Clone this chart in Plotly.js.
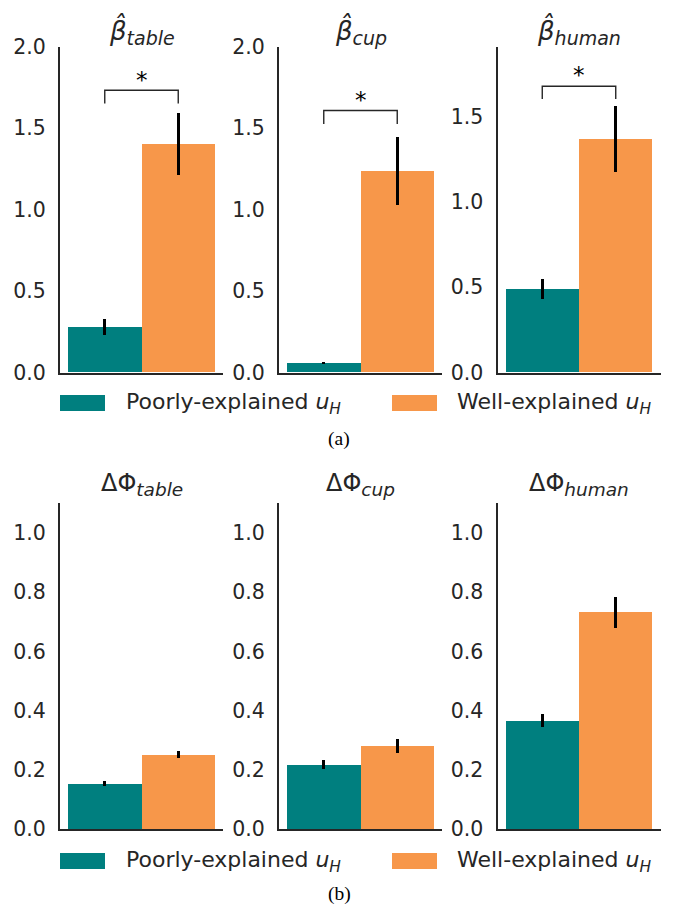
<!DOCTYPE html>
<html>
<head>
<meta charset="utf-8">
<script src="https://cdn.plot.ly/plotly-3.0.1.min.js"></script>
<style>html,body{margin:0;padding:0;background:#fff;}#chart{width:678px;height:910px;}</style>
</head>
<body>
<div id="chart"></div>
<script>
// ---- data ----
const groups = ["Poorly-explained", "Well-explained"];
const topTitles = ["table", "cup", "human"];
const bottomTitles = ["table", "cup", "human"];

// beta-hat (top row)
const betaPoor    = [0.28, 0.058, 0.49];
const betaPoorErr = [0.048, 0.004, 0.06];
const betaWell    = [1.40, 1.238, 1.369];
const betaWellErr = [0.19, 0.21, 0.196];
const betaYMax    = [2.0, 2.0, 1.91];
const bracketTop  = [1.733, 1.608, 1.678];
const bracketLeg  = [1.651, 1.526, 1.604];
const starY       = [1.823, 1.70, 1.77];

// delta-phi (bottom row)
const phiPoor    = [0.153, 0.217, 0.366];
const phiPoorErr = [0.008, 0.016, 0.023];
const phiWell    = [0.251, 0.281, 0.732];
const phiWellErr = [0.0125, 0.023, 0.052];
const phiYMax    = [1.1, 1.1, 1.1];

// ---- style ----
const W = 678, H = 910;
const TEAL = "#007f7f", ORANGE = "#f7974a", INK = "#262626";
const xPix = [[60, 223], [279, 442], [497.5, 660.5]];
const topRowPix = [372.5, 46.7];
const botRowPix = [829, 503.3];
const px2x = p => p / W;
const px2y = p => 1 - p / H;

const data = [];
const layout = {
  width: W, height: H,
  margin: {l: 0, r: 0, t: 0, b: 0},
  paper_bgcolor: "#fff", plot_bgcolor: "#fff",
  showlegend: false,
  font: {family: "DejaVu Sans", color: INK, size: 20},
  shapes: [], annotations: [], bargap: 0
};

function addPanel(idx, row, col, poor, poorErr, well, wellErr, ymax, dtick) {
  const xa = idx === 1 ? "x" : "x" + idx;
  const ya = idx === 1 ? "y" : "y" + idx;
  const errStyle = {type: "data", visible: true, color: "#000", thickness: 2.7, width: 0};
  data.push({type: "bar", x: [0], y: [poor[col]], width: [1], xaxis: xa, yaxis: ya,
    marker: {color: TEAL, line: {width: 0}}, name: groups[0],
    error_y: Object.assign({array: [poorErr[col]]}, errStyle)});
  data.push({type: "bar", x: [1], y: [well[col]], width: [1], xaxis: xa, yaxis: ya,
    marker: {color: ORANGE, line: {width: 0}}, name: groups[1],
    error_y: Object.assign({array: [wellErr[col]]}, errStyle)});
  const rowPix = row === 0 ? topRowPix : botRowPix;
  const xkey = idx === 1 ? "xaxis" : "xaxis" + idx;
  const ykey = idx === 1 ? "yaxis" : "yaxis" + idx;
  layout[xkey] = {domain: [px2x(xPix[col][0]), px2x(xPix[col][1])], anchor: ya,
    range: [-0.609, 1.609], showgrid: false, zeroline: false, showticklabels: false,
    ticks: "", showline: true, linecolor: INK, linewidth: 2, fixedrange: true};
  layout[ykey] = {domain: [px2y(rowPix[0]), px2y(rowPix[1])], anchor: xa,
    range: [0, ymax[col]], dtick: dtick, tick0: 0, tickformat: ".1f",
    showgrid: false, zeroline: false, ticks: "", showline: true, linecolor: INK,
    linewidth: 2, ticklabelstandoff: 8, tickfont: {size: 20.5, color: INK}, fixedrange: true};
}

for (let c = 0; c < 3; c++) {
  addPanel(c + 1, 0, c, betaPoor, betaPoorErr, betaWell, betaWellErr, betaYMax, 0.5);
  addPanel(c + 4, 1, c, phiPoor, phiPoorErr, phiWell, phiWellErr, phiYMax, 0.2);
}

// significance brackets (top row)
for (let c = 0; c < 3; c++) {
  const xa = c === 0 ? "x" : "x" + (c + 1);
  const ya = c === 0 ? "y" : "y" + (c + 1);
  layout.shapes.push({type: "path", xref: xa, yref: ya,
    path: `M 0,${bracketLeg[c]} L 0,${bracketTop[c]} L 1,${bracketTop[c]} L 1,${bracketLeg[c]}`,
    line: {color: INK, width: 1.4}});
  layout.annotations.push({xref: xa, yref: ya, x: 0.5, y: starY[c], text: "*",
    showarrow: false, xanchor: "center", yanchor: "middle", yshift: -4,
    font: {size: 23, color: "#000", family: "DejaVu Sans"}});
}

// subplot titles
for (let c = 0; c < 3; c++) {
  const cx = px2x((xPix[c][0] + xPix[c][1]) / 2);
  layout.annotations.push({xref: "paper", yref: "paper", x: cx, y: px2y(31),
    text: "<i>β̂</i><sub><span style='font-size:19px'><i>" + topTitles[c] + "</i></span></sub>",
    showarrow: false, xanchor: "center", yanchor: "middle", font: {size: 26, color: INK}});
  layout.annotations.push({xref: "paper", yref: "paper", x: cx, y: px2y(484),
    text: "ΔΦ<sub><span style='font-size:18.5px'><i>" + bottomTitles[c] + "</i></span></sub>",
    showarrow: false, xanchor: "center", yanchor: "middle", font: {size: 24, color: INK}});
}

// legends (drawn per row)
const legendRows = [403, 861];
legendRows.forEach(yc => {
  layout.shapes.push({type: "rect", xref: "paper", yref: "paper",
    x0: px2x(60), x1: px2x(105), y0: px2y(yc - 8), y1: px2y(yc + 8),
    fillcolor: TEAL, line: {width: 0}});
  layout.shapes.push({type: "rect", xref: "paper", yref: "paper",
    x0: px2x(392), x1: px2x(437), y0: px2y(yc - 8), y1: px2y(yc + 8),
    fillcolor: ORANGE, line: {width: 0}});
  layout.annotations.push({xref: "paper", yref: "paper", x: px2x(124), y: px2y(yc),
    text: groups[0] + " <i>u</i><sub><i>H</i></sub>", showarrow: false,
    xanchor: "left", yanchor: "middle", font: {size: 22, color: INK}});
  layout.annotations.push({xref: "paper", yref: "paper", x: px2x(455), y: px2y(yc),
    text: groups[1] + " <i>u</i><sub><i>H</i></sub>", showarrow: false,
    xanchor: "left", yanchor: "middle", font: {size: 22, color: INK}});
});

// captions
[["(a)", 439], ["(b)", 894]].forEach(([t, yc]) => {
  layout.annotations.push({xref: "paper", yref: "paper", x: 0.5, y: px2y(yc),
    text: t, showarrow: false, xanchor: "center", yanchor: "middle",
    font: {size: 19.5, color: "#000", family: "Liberation Serif"}});
});

Plotly.newPlot("chart", data, layout, {displayModeBar: false, staticPlot: true});
</script>
</body>
</html>
